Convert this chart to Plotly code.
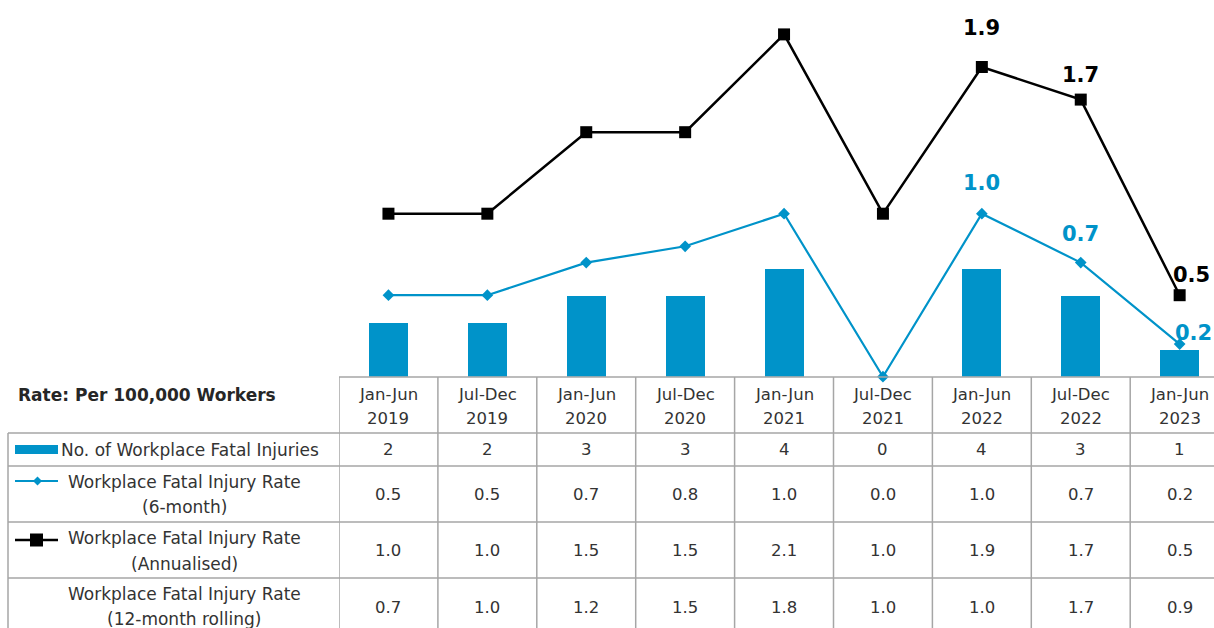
import plotly.graph_objects as go

# ---- data -------------------------------------------------------------
period_top = ["Jan-Jun", "Jul-Dec", "Jan-Jun", "Jul-Dec", "Jan-Jun",
              "Jul-Dec", "Jan-Jun", "Jul-Dec", "Jan-Jun"]
period_year = ["2019", "2019", "2020", "2020", "2021",
               "2021", "2022", "2022", "2023"]
fatal_injuries = [2, 2, 3, 3, 4, 0, 4, 3, 1]
rate_6m = [0.5, 0.5, 0.7, 0.8, 1.0, 0.0, 1.0, 0.7, 0.2]
rate_annual = [1.0, 1.0, 1.5, 1.5, 2.1, 1.0, 1.9, 1.7, 0.5]
rate_12m = [0.7, 1.0, 1.2, 1.5, 1.8, 1.0, 1.0, 1.7, 0.9]

row_labels = [
    ["No. of Workplace Fatal Injuries"],
    ["Workplace Fatal Injury Rate", "(6-month)"],
    ["Workplace Fatal Injury Rate", "(Annualised)"],
    ["Workplace Fatal Injury Rate", "(12-month rolling)"],
]
table_title = "Rate: Per 100,000 Workers"

# ---- styling ----------------------------------------------------------
W, H = 1214, 628
BLUE = "#0093C9"
BLACK = "#000000"
GRID = "#a6a6a6"
TXT = "#333333"
TFONT = "DejaVu Sans"
LFONT = "DejaVu Sans"
TSIZE = 16.5

x = list(range(len(period_top)))
col_w = 98.9            # pixel width of one table column
left_px = 339           # left edge of the first period column
base_px = 376.7         # baseline of the chart area
x_end = -0.5 + (W - left_px) / col_w


def px(v):
    return v / W


def py(v):
    return 1 - v / H


fig = go.Figure()

fig.add_trace(go.Bar(
    x=x, y=fatal_injuries, yaxis="y2", width=0.394,
    marker=dict(color=BLUE, line=dict(width=0)),
    name="No. of Workplace Fatal Injuries",
))
fig.add_trace(go.Scatter(
    x=x, y=rate_6m, mode="lines+markers", cliponaxis=False,
    line=dict(color=BLUE, width=2.2),
    marker=dict(symbol="diamond", size=9, color=BLUE),
    name="Workplace Fatal Injury Rate (6-month)",
))
fig.add_trace(go.Scatter(
    x=x, y=rate_annual, mode="lines+markers", cliponaxis=False,
    line=dict(color=BLACK, width=2.5),
    marker=dict(symbol="square", size=12, color=BLACK),
    name="Workplace Fatal Injury Rate (Annualised)",
))

annotations = []
shapes = []

# value labels on the most recent points
for i, dx, dy in [(6, 0, 39), (7, 0, 25), (8, 12, 20)]:
    annotations.append(dict(
        x=x[i], y=rate_annual[i], xref="x", yref="y", text=f"{rate_annual[i]:.1f}",
        showarrow=False, xshift=dx, yshift=dy,
        font=dict(family=LFONT, size=21, color=BLACK, weight="bold")))
for i, dx, dy in [(6, 0, 31), (7, 0, 29), (8, 14, 11)]:
    annotations.append(dict(
        x=x[i], y=rate_6m[i], xref="x", yref="y", text=f"{rate_6m[i]:.1f}",
        showarrow=False, xshift=dx, yshift=dy,
        font=dict(family=LFONT, size=21, color=BLUE, weight="bold")))

# ---- data table -------------------------------------------------------
row_edges = [377, 433, 466, 522, 578, H + 20]

# horizontal rules
shapes.append(dict(type="line", xref="paper", yref="paper",
                   x0=px(left_px), x1=1, y0=py(row_edges[0]), y1=py(row_edges[0]),
                   line=dict(color=GRID, width=1.5)))
for e in row_edges[1:5]:
    shapes.append(dict(type="line", xref="paper", yref="paper",
                       x0=px(8), x1=1, y0=py(e), y1=py(e),
                       line=dict(color=GRID, width=1.5)))
# vertical rules
shapes.append(dict(type="line", xref="paper", yref="paper",
                   x0=px(8), x1=px(8), y0=py(row_edges[1]), y1=py(H + 20),
                   line=dict(color=GRID, width=1.5)))
for i in range(len(x) + 1):
    shapes.append(dict(type="line", xref="x", yref="paper",
                       x0=i - 0.5, x1=i - 0.5, y0=py(row_edges[0]), y1=py(H + 20),
                       line=dict(color=GRID, width=1.5)))


def cell(xv, yv, text, xref="x", size=TSIZE, color=TXT, anchor="center", bold=False):
    annotations.append(dict(
        x=xv, y=py(yv), xref=xref, yref="paper", text=text, showarrow=False,
        xanchor=anchor, yanchor="middle",
        font=dict(family=TFONT, size=size, color=color,
                  weight="bold" if bold else "normal")))


for i in x:
    cell(i, 394, period_top[i])
    cell(i, 418, period_year[i])
    cell(i, 450, str(fatal_injuries[i]))
    cell(i, 494.5, f"{rate_6m[i]:.1f}")
    cell(i, 550, f"{rate_annual[i]:.1f}")
    cell(i, 607, f"{rate_12m[i]:.1f}")

cell(px(16), 395, table_title, xref="paper", size=17, color="#262626",
     anchor="left", bold=True)

# row headers with legend keys
cell(px(59), 450, row_labels[0][0], xref="paper", anchor="left", size=17)
shapes.append(dict(type="rect", xref="paper", yref="paper",
                   x0=px(15), x1=px(58), y0=py(445), y1=py(454),
                   fillcolor=BLUE, line=dict(width=0)))

for (yl1, yl2), lab in zip([(481.5, 507), (538, 563.5), (594, 619)], row_labels[1:]):
    cell(px(184), yl1, lab[0], xref="paper", size=17)
    cell(px(184), yl2, lab[1], xref="paper", size=17)

shapes.append(dict(type="line", xref="paper", yref="paper",
                   x0=px(15), x1=px(58), y0=py(481), y1=py(481),
                   line=dict(color=BLUE, width=2.2)))
shapes.append(dict(type="path", xref="paper", yref="paper",
                   path=f"M {px(33)},{py(481)} L {px(37.5)},{py(476.5)} "
                        f"L {px(42)},{py(481)} L {px(37.5)},{py(485.5)} Z",
                   fillcolor=BLUE, line=dict(width=0)))
shapes.append(dict(type="line", xref="paper", yref="paper",
                   x0=px(15), x1=px(58), y0=py(540), y1=py(540),
                   line=dict(color=BLACK, width=2.5)))
shapes.append(dict(type="rect", xref="paper", yref="paper",
                   x0=px(30), x1=px(43), y0=py(533.5), y1=py(546.5),
                   fillcolor=BLACK, line=dict(width=0)))

fig.update_layout(
    width=W, height=H,
    margin=dict(l=0, r=0, t=0, b=0),
    paper_bgcolor="white", plot_bgcolor="white",
    showlegend=False,
    bargap=0,
    xaxis=dict(domain=[px(left_px), 1], range=[-0.5, x_end], visible=False,
               fixedrange=True),
    yaxis=dict(domain=[py(base_px), 1], range=[0, base_px / 163.0],
               visible=False, fixedrange=True),
    yaxis2=dict(domain=[py(base_px), 1], range=[0, base_px / 27.0],
                overlaying="y", visible=False, fixedrange=True),
    annotations=annotations,
    shapes=shapes,
)

fig.write_html("out.html", config={"displayModeBar": False})
